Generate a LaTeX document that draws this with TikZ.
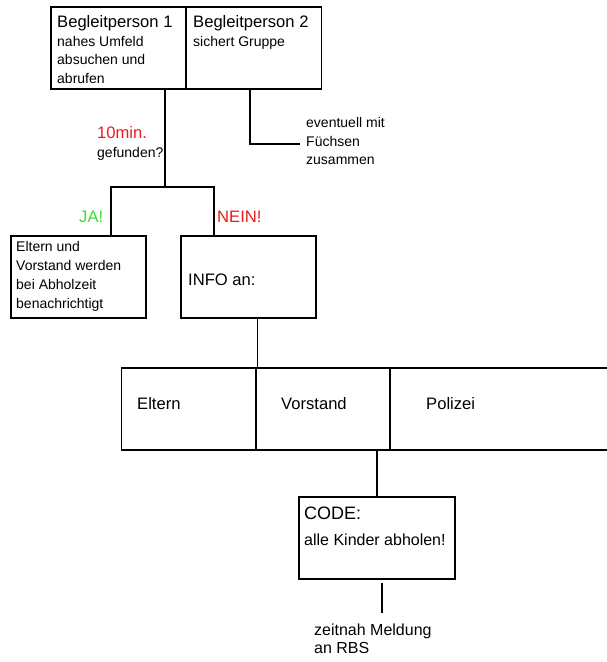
\documentclass[tikz,border=0pt]{standalone}
\usepackage{fontspec}
\setmainfont{Liberation Sans}
\definecolor{neinred}{RGB}{232,28,28}
\definecolor{jagreen}{RGB}{52,222,52}
\newcommand{\bigtxt}{\fontsize{16.6}{19}\selectfont}
\newcommand{\smalltxt}{\fontsize{14}{18.8}\selectfont}
\begin{document}
\begin{tikzpicture}[x=1pt,y=-1pt,
  box/.style={draw=black,line width=1.8pt,minimum width=135pt,minimum height=82pt,inner sep=0pt},
  txt/.style={inner sep=0pt,anchor=north west,align=left,font=\smalltxt},
  lbl/.style={inner sep=0pt,anchor=west,font=\bigtxt},
  line/.style={line width=1.8pt}]
  \clip (0,0) rectangle (607,662);
  % boxes
  \node[box] (b1) at (118.5,48) {};
  \node[box] (b2) at (254,48) {};
  \node[box] (jabox) at (78.5,277) {};
  \node[box] (info) at (248.5,277) {};
  \node[box] (eltern) at (189,409) {};
  \node[box] (vorstand) at (323,409) {};
  \node[box,minimum width=240pt] (polizei) at (510,409) {};
  \node[box,minimum width=156pt] (code) at (377,538) {};
  % texts
  \node[txt] (t1) at (57,15) {{\bigtxt Begleitperson 1}\\nahes Umfeld\\absuchen und\\abrufen};
  \node[txt] (t2) at (193,15) {{\bigtxt Begleitperson 2}\\sichert Gruppe};
  \node[txt] (fuechse) at (306,117) {eventuell mit\\Füchsen\\zusammen};
  \node[txt,font=\bigtxt,text=neinred] (ten) at (97,126) {10min.};
  \node[txt] (gef) at (97,147) {gefunden?};
  \node[txt,font=\bigtxt,text=jagreen] (ja) at (79,211) {JA!};
  \node[txt,font=\bigtxt,text=neinred] (nein) at (217,211) {NEIN!};
  \node[txt] (tja) at (16,241.5) {Eltern und\\Vorstand werden\\bei Abholzeit\\benachrichtigt};
  \node[txt,font=\bigtxt] (tinfo) at (188,274) {INFO an:};
  \node[lbl] (teltern) at (137,404) {Eltern};
  \node[lbl] (tvorstand) at (281,404) {Vorstand};
  \node[lbl] (tpolizei) at (426,404) {Polizei};
  \node[txt,font=\fontsize{18}{20}\selectfont] (tcode) at (304,507) {CODE:};
  \node[txt,font=\fontsize{16}{18}\selectfont] (tabholen) at (304,533.5) {alle Kinder abholen!};
  \node[txt,font=\fontsize{16}{18.4}\selectfont] (meldung) at (314,623.5) {zeitnah Meldung\\an RBS};
  % connectors
  \coordinate (fork) at (165,187);
  \coordinate (forkl) at (111,187);
  \coordinate (forkr) at (214,187);
  \coordinate (tap) at (250,144);
  \coordinate (tapend) at (300,144);
  \coordinate (rbs) at (382,613);
  \draw[line] (b1.south -| fork) -- (fork);
  \draw[line] (jabox.north -| forkl) -- (forkl) -- (forkr) -- (info.north -| forkr);
  \draw[line] (b2.south -| tap) |- (tapend);
  \draw[line] (info.south -| eltern.north east) -- (eltern.north east);
  \draw[line] (code.north |- vorstand.south) -- (code.north);
  \draw[line] (code.south -| rbs) ++(0,3) -- (rbs);
\end{tikzpicture}
\end{document}
